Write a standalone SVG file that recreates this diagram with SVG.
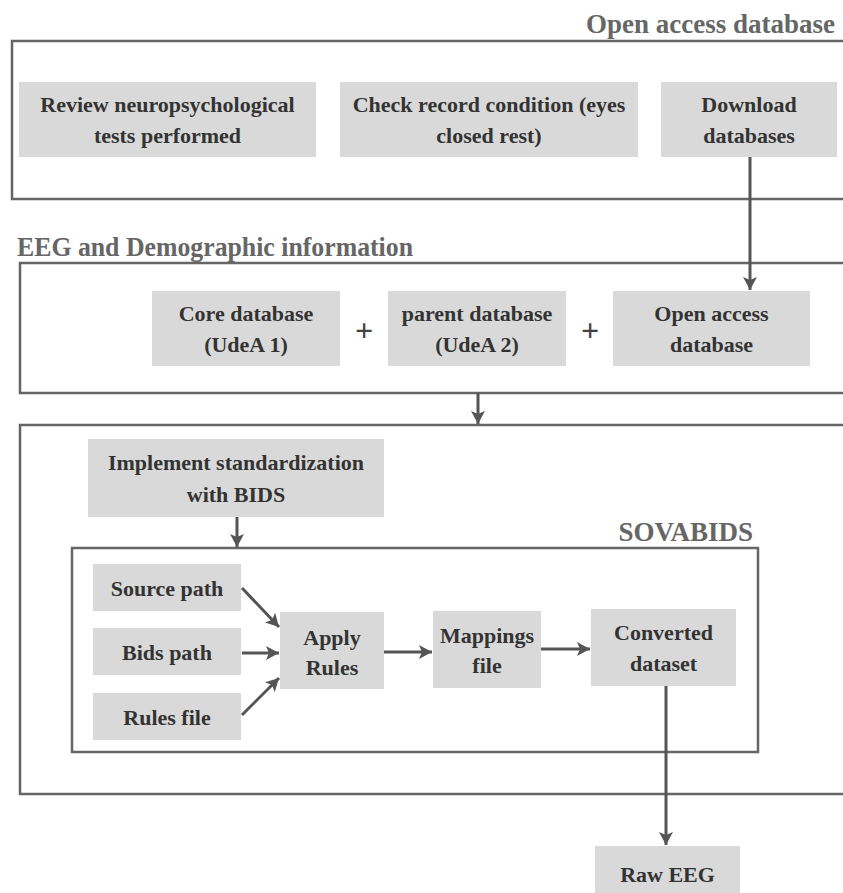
<svg xmlns="http://www.w3.org/2000/svg" width="843" height="893" viewBox="0 0 843 893">
  <style>
    .frame { fill: none; stroke: #666; stroke-width: 2.5; }
    .node { fill: #d9d9d9; }
    .label { font-family: "Liberation Serif", "Times New Roman", serif; font-weight: bold; font-size: 22px; fill: #333; text-anchor: middle; }
    .title { font-family: "Liberation Serif", "Times New Roman", serif; font-weight: bold; font-size: 27px; fill: #666; }
    .plus { font-family: "Liberation Serif", "Times New Roman", serif; font-weight: bold; font-size: 32px; fill: #444; text-anchor: middle; }
    .edge { fill: none; stroke: #555; stroke-width: 3; }
  </style>
  <defs>
    <marker id="head" markerUnits="userSpaceOnUse" markerWidth="14" markerHeight="14" viewBox="0 0 14 14" refX="13" refY="7" orient="auto">
      <path d="M0,0 L13,7 L0,14 L3,7 Z" fill="#555"/>
    </marker>
  </defs>

  <rect width="843" height="893" fill="#fff"/>

  <!-- containers -->
  <g id="open-access-frame">
    <rect class="frame" x="12" y="41" width="840" height="158"/>
    <text class="title" x="835" y="33" text-anchor="end">Open access database</text>
  </g>
  <g id="eeg-demographic-frame">
    <rect class="frame" x="20" y="263" width="832" height="130"/>
    <text class="title" x="17" y="256" font-size="26" textLength="396" lengthAdjust="spacingAndGlyphs">EEG and Demographic information</text>
  </g>
  <g id="standardization-frame">
    <rect class="frame" x="20" y="425" width="832" height="369"/>
  </g>
  <g id="sovabids-frame">
    <rect class="frame" x="72" y="548" width="686" height="204"/>
    <text class="title" x="753" y="541" font-size="25" text-anchor="end">SOVABIDS</text>
  </g>

  <!-- top row -->
  <g id="review-tests">
    <rect class="node" x="19" y="82" width="297" height="75"/>
    <text class="label" x="167.5" y="112">Review neuropsychological</text>
    <text class="label" x="167.5" y="143">tests performed</text>
  </g>
  <g id="check-record">
    <rect class="node" x="340" y="82" width="298" height="75"/>
    <text class="label" x="489" y="112">Check record condition (eyes</text>
    <text class="label" x="489" y="143">closed rest)</text>
  </g>
  <g id="download-databases">
    <rect class="node" x="661" y="82" width="176" height="75"/>
    <text class="label" x="749" y="112">Download</text>
    <text class="label" x="749" y="143">databases</text>
  </g>

  <!-- database row -->
  <g id="core-database">
    <rect class="node" x="152" y="291" width="188" height="75"/>
    <text class="label" x="246" y="321">Core database</text>
    <text class="label" x="246" y="352">(UdeA 1)</text>
  </g>
  <text class="plus" x="364" y="341">+</text>
  <g id="parent-database">
    <rect class="node" x="388" y="291" width="178" height="75"/>
    <text class="label" x="477" y="321">parent database</text>
    <text class="label" x="477" y="352">(UdeA 2)</text>
  </g>
  <text class="plus" x="590" y="341">+</text>
  <g id="open-access-database">
    <rect class="node" x="613" y="291" width="197" height="75"/>
    <text class="label" x="711.5" y="321">Open access</text>
    <text class="label" x="711.5" y="352">database</text>
  </g>

  <!-- standardization -->
  <g id="implement-bids">
    <rect class="node" x="88" y="439" width="296" height="78"/>
    <text class="label" x="236" y="470">Implement standardization</text>
    <text class="label" x="236" y="502">with BIDS</text>
  </g>

  <!-- sovabids pipeline -->
  <g id="source-path">
    <rect class="node" x="93" y="564" width="148" height="47"/>
    <text class="label" x="167" y="596">Source path</text>
  </g>
  <g id="bids-path">
    <rect class="node" x="93" y="628" width="148" height="47"/>
    <text class="label" x="167" y="660">Bids path</text>
  </g>
  <g id="rules-file">
    <rect class="node" x="93" y="693" width="148" height="47"/>
    <text class="label" x="167" y="725">Rules file</text>
  </g>
  <g id="apply-rules">
    <rect class="node" x="280" y="612" width="104" height="77"/>
    <text class="label" x="332" y="645">Apply</text>
    <text class="label" x="332" y="675">Rules</text>
  </g>
  <g id="mappings-file">
    <rect class="node" x="433" y="611" width="108" height="77"/>
    <text class="label" x="487" y="643">Mappings</text>
    <text class="label" x="487" y="673">file</text>
  </g>
  <g id="converted-dataset">
    <rect class="node" x="591" y="609" width="145" height="77"/>
    <text class="label" x="663.5" y="640">Converted</text>
    <text class="label" x="663.5" y="671">dataset</text>
  </g>
  <g id="raw-eeg">
    <rect class="node" x="595" y="846" width="145" height="60"/>
    <text class="label" x="667.5" y="882" font-size="26">Raw EEG</text>
  </g>

  <!-- connectors -->
  <g id="connectors">
    <line class="edge" x1="750" y1="157" x2="750" y2="290" marker-end="url(#head)"/>
    <line class="edge" x1="478" y1="393" x2="478" y2="424" marker-end="url(#head)"/>
    <line class="edge" x1="237" y1="517" x2="237" y2="547" marker-end="url(#head)"/>
    <line class="edge" x1="242" y1="588" x2="279" y2="627" marker-end="url(#head)"/>
    <line class="edge" x1="242" y1="653" x2="279" y2="653" marker-end="url(#head)"/>
    <line class="edge" x1="242" y1="715" x2="279" y2="678" marker-end="url(#head)"/>
    <line class="edge" x1="384" y1="652" x2="432" y2="652" marker-end="url(#head)"/>
    <line class="edge" x1="541" y1="649" x2="590" y2="649" marker-end="url(#head)"/>
    <line class="edge" x1="666" y1="686" x2="666" y2="845" marker-end="url(#head)"/>
  </g>
</svg>
